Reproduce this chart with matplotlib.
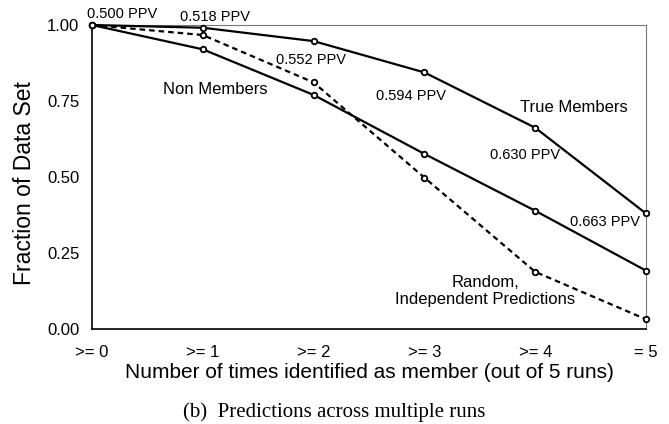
import matplotlib.pyplot as plt

plt.rcParams['font.family'] = ['Liberation Sans', 'DejaVu Sans']

runs = [0, 1, 2, 3, 4, 5]
run_labels = [">= 0", ">= 1", ">= 2", ">= 3", ">= 4", "= 5"]

true_members = [1.0, 0.991, 0.947, 0.844, 0.662, 0.380]
non_members = [1.0, 0.920, 0.770, 0.576, 0.389, 0.192]
random_preds = [1.0, 0.967, 0.811, 0.498, 0.188, 0.032]

ppv = ["0.500 PPV", "0.518 PPV", "0.552 PPV", "0.594 PPV", "0.630 PPV", "0.663 PPV"]

fig = plt.figure(figsize=(6.69, 4.24), dpi=100)
ax = fig.add_axes([92 / 669, 95 / 424, 554 / 669, 304 / 424])

mk = dict(marker='o', markersize=4, markerfacecolor='white',
          markeredgecolor='black', markeredgewidth=1.3, color='black',
          lw=1.6, clip_on=False, zorder=3)
ax.plot(runs, true_members, **mk)
ax.plot(runs, non_members, **mk)
ax.plot(runs, random_preds, dashes=(2.5, 1.8), **mk)

ax.set_xlim(0, 5)
ax.set_ylim(0, 1)
ax.set_xticks(runs)
ax.set_xticklabels(run_labels)
ax.set_yticks([0, 0.25, 0.5, 0.75, 1.0])
ax.set_yticklabels(["0.00", "0.25", "0.50", "0.75", "1.00"])
ax.tick_params(length=0, labelsize=12, pad=9)
ax.tick_params(axis='x', pad=11.5)

for s in ['left', 'bottom']:
    ax.spines[s].set_linewidth(1.2)
for s in ['top', 'right']:
    ax.spines[s].set_linewidth(0.8)
    ax.spines[s].set_color('#777777')

ax.set_xlabel("Number of times identified as member (out of 5 runs)", fontsize=15)
ax.xaxis.set_label_coords(0.5, -0.112)
ax.set_ylabel("Fraction of Data Set", fontsize=16.5)
ax.yaxis.set_label_coords(-0.101, 0.479)

# PPV annotations along the curves
ppv_pos = [(-0.045, 1.035), (0.794, 1.026), (1.66, 0.885), (2.563, 0.766),
           (3.59, 0.572), (4.314, 0.352)]
for (x, y), t in zip(ppv_pos, ppv):
    ax.text(x, y, t, fontsize=10.5, ha='left', va='center')

ax.text(1.11, 0.789, "Non Members", fontsize=12, ha='center', va='center')
ax.text(4.346, 0.727, "True Members", fontsize=12, ha='center', va='center')
ax.text(3.547, 0.125, "Random,\nIndependent Predictions", fontsize=12,
        ha='center', va='center', linespacing=1.15)

fig.text(0.5, 1 - 417 / 424, "(b)  Predictions across multiple runs",
         family='Liberation Serif', fontsize=15, ha='center', va='baseline')

fig.savefig("out.png", dpi=100)
